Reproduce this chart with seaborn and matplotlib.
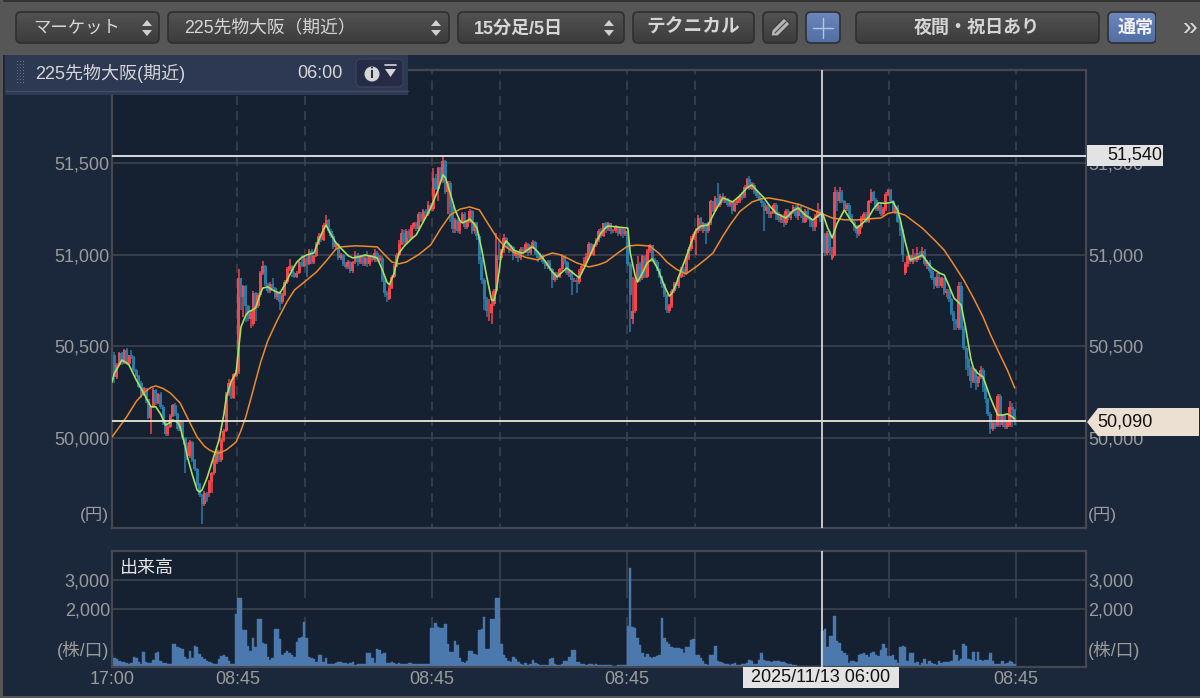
import numpy as np
import matplotlib
matplotlib.use("Agg")
import matplotlib.pyplot as plt
import seaborn as sns
from matplotlib.colors import LinearSegmentedColormap
from matplotlib.patches import FancyBboxPatch, Polygon, Rectangle, Circle

# 15 minute candles, 372 bars
opens = [
    50330,50450,50330,50400,50465,50410,50480,50405,50450,50440,50370,50340,50300,50240,50270,50210,50110,50170,50260,50190,
    50240,50170,50080,50020,50060,50120,50180,50130,50050,50090,50000,49960,49900,49980,49880,49830,49750,49690,49640,49700,
    49700,49760,49810,49870,49930,49880,49990,50040,50240,50300,50220,50340,50360,50870,50770,50830,50720,50650,50620,50790,
    50720,50780,50900,50940,50840,50800,50840,50820,50770,50790,50740,50780,50850,50920,50940,50900,50880,50900,50960,50940,
    50980,50950,51020,50960,50990,51060,51100,51080,51160,51190,51130,51100,51040,51060,50980,51000,50950,50930,50960,50910,
    50960,51000,50960,50990,50950,50980,50950,50990,50970,51010,50970,50980,50860,50790,50760,50820,50880,50940,51000,51060,
    51120,51070,51130,51090,51150,51170,51140,51220,51190,51240,51220,51270,51250,51420,51360,51470,51400,51510,51340,51390,
    51260,51140,51190,51130,51180,51220,51150,51180,51240,51130,51170,51100,50970,50860,50760,50690,50680,50730,50800,51000,
    50980,51020,51090,51060,51030,51040,50990,51010,50980,51030,51020,51060,51010,51040,51070,51010,50980,51000,50960,50940,
    50960,50920,50860,50900,50880,50920,50990,50960,50900,50910,50860,50860,50850,50910,50940,50970,50990,51060,51000,51050,
    51080,51130,51100,51170,51140,51170,51130,51130,51150,51110,51140,51110,51130,50950,50650,50690,50860,50950,50870,50990,
    50880,51020,51050,50970,50960,50920,50880,50840,50780,50690,50720,50800,50840,50830,50880,50920,50900,50980,51030,51090,
    51110,51130,51200,51140,51170,51130,51170,51290,51240,51310,51270,51320,51290,51300,51270,51290,51240,51280,51290,51320,
    51320,51370,51410,51360,51380,51340,51320,51300,51280,51240,51260,51220,51230,51270,51220,51190,51210,51170,51240,51200,
    51230,51260,51210,51260,51230,51180,51240,51200,51180,51150,51210,51240,51220,51110,51010,51120,50980,51000,51340,51290,
    51340,51290,51250,51270,51210,51180,51150,51110,51150,51200,51220,51180,51290,51340,51300,51250,51270,51220,51250,51330,
    51350,51290,51240,51260,51180,51130,50900,50950,50990,50960,51000,50970,51010,50990,51020,50950,50960,50910,50870,50830,
    50880,50830,50870,50790,50800,50760,50680,50640,50600,50830,50600,50490,50430,50380,50310,50370,50300,50330,50370,50280,
    50210,50130,50050,50080,50070,50230,50070,50120,50060,50070,50170,50150,
]
closes = [
    50450,50330,50400,50465,50410,50480,50405,50450,50440,50370,50340,50280,50240,50270,50200,50110,50170,50260,50190,50240,
    50170,50080,50020,50060,50120,50180,50130,50050,50090,50000,49960,49900,49980,49880,49830,49750,49690,49640,49700,49660,
    49760,49810,49880,49930,49880,49990,50040,50240,50300,50220,50350,50360,50870,50770,50830,50720,50650,50680,50790,50720,
    50780,50900,50940,50840,50800,50840,50820,50770,50790,50740,50780,50850,50920,50940,50900,50880,50900,50960,50940,50980,
    50950,51020,50960,50990,51060,51100,51080,51160,51190,51130,51100,51040,51060,50980,51000,50950,50930,50960,50910,50960,
    51000,50960,50990,50950,50980,50950,50990,50970,51010,50970,50980,50860,50790,50780,50820,50880,50940,51000,51060,51120,
    51070,51130,51090,51150,51170,51140,51220,51190,51240,51220,51270,51250,51420,51360,51470,51400,51510,51340,51390,51260,
    51140,51190,51130,51180,51220,51150,51180,51240,51130,51170,51100,50970,50860,50760,50690,50690,50730,50800,51000,50980,
    51020,51090,51060,51030,51040,50990,51010,50980,51030,51020,51060,51010,51040,51070,51010,50980,51000,50960,50940,50960,
    50920,50860,50900,50880,50920,50990,50960,50900,50910,50860,50860,50850,50910,50940,50970,50990,51060,51000,51050,51080,
    51130,51100,51170,51140,51170,51130,51130,51150,51110,51140,51110,51130,50950,50780,50690,50860,50950,50870,50990,50880,
    51020,51050,50970,50960,50920,50880,50840,50780,50700,50720,50800,50840,50830,50880,50920,50900,50980,51030,51090,51110,
    51130,51200,51140,51170,51130,51170,51290,51240,51310,51270,51320,51290,51300,51270,51290,51240,51280,51290,51320,51310,
    51370,51410,51360,51380,51340,51320,51300,51280,51240,51260,51220,51230,51270,51220,51190,51210,51170,51240,51200,51230,
    51260,51210,51260,51230,51180,51240,51200,51180,51150,51210,51240,51220,51110,51010,51120,51020,51000,51340,51290,51340,
    51290,51250,51270,51210,51180,51150,51120,51150,51200,51220,51180,51290,51340,51300,51250,51270,51220,51250,51330,51350,
    51290,51240,51260,51180,51130,51000,50950,50990,50960,51000,50970,51010,50990,51020,50950,50960,50910,50870,50840,50880,
    50830,50870,50790,50800,50760,50680,50640,50620,50830,50600,50490,50430,50380,50310,50370,50300,50330,50370,50280,50210,
    50130,50050,50080,50060,50230,50070,50120,50060,50090,50170,50150,50090,
]
highs = [
    50480,50470,50410,50470,50470,50485,50490,50455,50480,50445,50375,50345,50310,50280,50275,50215,50175,50270,50265,50245,
    50250,50180,50090,50070,50130,50185,50190,50135,50100,50095,50005,49970,49990,49985,49885,49835,49755,49695,49710,49705,
    49770,49815,49890,49940,49935,50000,50050,50250,50320,50305,50355,50370,50920,50875,50835,50835,50725,50690,50800,50795,
    50790,50910,50965,50945,50845,50850,50870,50825,50800,50800,50790,50860,50930,50975,50945,50905,50910,50970,51000,50990,
    50990,51030,51030,51000,51070,51120,51110,51170,51215,51195,51140,51110,51070,51065,51010,51005,50960,50970,50965,50965,
    51020,51010,51000,51000,51000,51020,51000,51000,51030,51020,51000,50990,50870,50800,50830,50890,50950,51010,51080,51140,
    51135,51140,51140,51160,51180,51180,51230,51230,51250,51250,51290,51280,51470,51440,51480,51480,51545,51515,51400,51400,
    51270,51200,51200,51190,51235,51230,51190,51250,51245,51180,51180,51110,50985,50870,50770,50760,50760,50810,51120,51080,
    51030,51110,51095,51065,51050,51045,51020,51020,51040,51040,51070,51065,51050,51080,51075,51020,51010,51005,50970,50970,
    50970,50925,50905,50905,50925,51005,51000,50965,50920,50915,50870,50870,50920,50950,50985,51010,51070,51065,51060,51090,
    51140,51145,51175,51180,51180,51175,51140,51160,51155,51145,51145,51140,51135,50960,50880,50870,50990,50960,51000,51000,
    51030,51060,51055,50980,50970,50925,50885,50845,50785,50730,50810,50850,50850,50890,50930,50930,50990,51040,51100,51125,
    51145,51215,51205,51180,51175,51180,51300,51295,51320,51390,51330,51335,51320,51310,51295,51295,51290,51310,51330,51340,
    51380,51420,51430,51395,51390,51350,51330,51310,51290,51270,51270,51240,51280,51280,51230,51220,51220,51250,51250,51240,
    51270,51270,51280,51270,51240,51250,51250,51210,51190,51220,51280,51250,51230,51120,51130,51130,51040,51370,51350,51370,
    51350,51300,51280,51280,51220,51190,51160,51160,51210,51230,51230,51300,51360,51345,51310,51280,51280,51260,51340,51360,
    51360,51300,51270,51270,51190,51140,50960,51000,51000,51030,51010,51040,51020,51040,51030,50970,50970,50920,50880,50900,
    50900,50880,50875,50810,50810,50765,50690,50650,50850,50850,50610,50500,50440,50390,50380,50375,50340,50390,50380,50290,
    50220,50140,50090,50100,50240,50240,50130,50130,50100,50200,50190,50160,
]
lows = [
    50290,50300,50320,50395,50400,50405,50400,50400,50430,50360,50335,50270,50220,50230,50190,50105,50020,50165,50180,50185,
    50160,50070,50010,50010,50055,50115,50120,50040,50040,49990,49810,49880,49890,49870,49820,49740,49680,49530,49630,49650,
    49680,49700,49800,49860,49870,49870,49980,50030,50230,50210,50210,50330,50350,50700,50660,50630,50640,50600,50610,50640,
    50710,50770,50890,50830,50790,50790,50810,50760,50750,50700,50730,50775,50840,50910,50880,50870,50870,50895,50930,50930,
    50880,50945,50950,50950,50985,51050,51070,51075,51150,51120,51090,51030,51030,50970,50970,50940,50920,50920,50900,50900,
    50950,50940,50950,50940,50940,50930,50940,50960,50960,50960,50960,50850,50770,50740,50750,50810,50870,50930,50990,51050,
    51050,51060,51080,51080,51140,51130,51130,51180,51180,51210,51210,51240,51240,51350,51290,51390,51390,51330,51220,51180,
    51120,51120,51120,51110,51170,51140,51140,51170,51110,51110,51080,50950,50840,50700,50660,50640,50620,50720,50790,50970,
    50970,51010,51040,51010,51020,50970,50980,50960,50970,51005,51010,50995,51000,51030,51000,50960,50970,50950,50920,50920,
    50910,50820,50850,50860,50870,50910,50950,50890,50880,50780,50850,50790,50840,50900,50930,50960,50980,50990,50990,51040,
    51070,51090,51095,51120,51130,51110,51120,51120,51100,51100,51090,51100,50940,50580,50620,50680,50850,50850,50860,50870,
    50870,51010,50960,50950,50910,50870,50820,50770,50680,50680,50710,50790,50810,50820,50870,50880,50890,50970,51020,51080,
    51000,51120,51130,51120,51060,51120,51160,51230,51230,51260,51260,51280,51280,51260,51260,51220,51230,51270,51280,51300,
    51310,51360,51350,51350,51330,51310,51290,51260,51130,51220,51200,51200,51220,51190,51180,51170,51150,51160,51190,51190,
    51220,51200,51190,51200,51170,51170,51190,51150,51130,51130,51200,51180,51060,50990,51000,51000,50970,50990,51240,51280,
    51280,51240,51240,51200,51170,51130,51090,51100,51140,51190,51170,51170,51280,51290,51240,51240,51210,51210,51240,51320,
    51280,51230,51220,51170,51100,50960,50890,50930,50950,50950,50960,50960,50970,50980,50940,50920,50900,50860,50810,50820,
    50820,50820,50780,50770,50740,50670,50590,50590,50590,50590,50480,50370,50340,50270,50300,50260,50280,50320,50250,50190,
    50120,50020,50040,50050,50060,50060,50060,50050,50050,50060,50060,50070,
]
volumes = [
    460,300,260,200,170,170,150,120,130,340,300,170,120,520,170,130,130,250,480,520,
    200,140,130,120,110,800,780,680,660,620,340,280,540,300,720,680,460,340,260,200,
    180,130,120,100,280,380,420,330,200,100,90,1820,2390,2390,1290,1290,720,560,1010,700,
    1650,1650,820,800,350,250,300,1320,1320,950,400,500,550,500,400,350,860,1000,1050,1550,
    1000,360,300,280,160,420,420,160,300,90,110,120,130,170,170,130,150,120,140,160,
    80,100,100,90,110,480,480,300,140,610,600,450,490,150,130,170,130,120,140,120,
    120,110,130,130,120,120,120,110,90,90,90,1360,1360,1520,1380,1340,1340,1470,800,530,
    520,890,760,300,170,130,200,540,540,460,400,1270,1300,1725,630,630,1670,1650,2390,2390,
    800,420,300,220,160,350,280,180,110,80,150,70,100,250,150,90,70,80,80,80,
    290,300,120,80,80,120,200,200,340,600,600,160,170,110,90,70,120,90,80,100,
    70,60,60,60,70,60,50,50,60,60,60,60,1400,3430,1380,1340,1000,760,500,350,
    460,360,300,330,390,420,1690,1000,870,800,700,650,660,670,610,480,690,700,940,950,
    400,400,300,220,120,60,400,430,730,200,170,150,120,90,70,120,140,60,70,90,
    110,130,230,200,120,100,240,480,230,210,200,180,200,210,200,180,160,130,100,100,
    70,60,50,40,30,30,20,20,20,20,20,20,1240,1300,700,1060,1060,1760,880,840,
    550,500,400,130,200,200,170,400,440,470,400,350,500,520,430,380,590,790,640,370,
    370,430,230,130,680,720,690,200,500,480,130,160,80,130,260,110,190,130,100,70,
    190,130,170,170,170,190,570,400,220,260,780,720,260,240,520,220,510,250,220,230,
    250,470,200,110,90,100,200,110,130,200,170,90,
]

# moving averages read at these bar numbers
fast_bar = [0,1,2,4,6,7,10,13,16,18,20,22,24,25,27,28,30,31,33,35,36,37,39,41,44,46,47,49,51,52,53,55,56,58,59,61,62,64,67,69,71,72,74,76,78,80,
            83,85,87,88,90,92,94,97,99,102,104,107,109,111,113,114,116,117,118,120,123,125,128,131,134,136,137,138,140,141,143,144,146,147,149,150,
            152,154,156,157,158,159,160,161,162,164,165,168,169,172,173,175,177,179,181,183,185,187,189,192,194,196,199,201,203,204,208,212,213,215,216,
            218,220,222,224,225,227,229,230,232,234,236,238,240,242,245,248,251,253,255,258,261,263,265,268,270,273,277,280,282,285,288,290,292,294,296,
            298,301,303,306,308,311,313,315,318,321,323,324,326,328,331,333,335,337,340,342,344,346,349,351,353,354,356,358,361,364,366,368,370,371]
fast_ma = [50305,50355,50375,50425,50410,50398,50316,50245,50170,50170,50130,50070,50085,50098,50085,50060,49960,49896,49800,49716,49705,49716,49780,49864,49989,50130,50224,50310,50355,50480,50605,50670,50687,50700,50709,50790,50818,50824,50800,50790,50835,50862,50915,50960,50985,50998,
           51009,51080,51140,51160,51110,51065,51036,50995,50982,50990,50998,50990,50982,50920,50850,50835,50900,50960,51009,51045,51085,51107,51180,51254,51353,51435,51420,51380,51290,51244,51185,51173,51185,51194,51165,51145,
           51025,50880,50753,50750,50807,50900,51009,51050,51075,51045,51025,51010,51009,51038,51042,51015,50982,50945,50905,50878,50905,50927,50905,50873,50925,50982,51070,51118,51150,51156,51150,51145,51009,50885,50851,
           50900,50955,50976,50930,50900,50830,50774,50785,50845,50920,50987,51065,51134,51155,51162,51240,51309,51300,51287,51320,51365,51380,51350,51309,51271,51225,51200,51240,51254,51215,51189,51210,51227,51150,51091,
           51170,51244,51200,51145,51165,51205,51250,51282,51280,51287,51240,51189,51070,50971,50985,50998,50960,50927,50900,50889,50830,50764,50725,50589,50430,50382,50350,50333,50220,50125,50125,50131,50115,50104]
slow_bar = [0,3,6,10,13,16,18,21,24,28,31,35,38,40,42,44,47,51,53,55,58,61,64,68,72,75,79,84,88,92,94,100,105,109,112,115,118,121,126,131,135,139,143,147,151,154,158,161,165,170,175,178,181,184,187,191,196,200,203,208,212,216,221,225,228,232,236,238,240,244,247,251,254,258,263,267,270,276,283,290,296,301,306,311,316,319,322,326,333,338,342,346,350,354,358,361,364,368,371]
slow_ma = [50005,50060,50115,50200,50245,50276,50284,50270,50245,50191,50110,50005,49955,49935,49922,49918,49935,49978,50040,50115,50260,50409,50530,50644,50745,50807,50850,50905,50965,51030,51042,51048,51045,51042,51000,50960,50950,50960,51000,51053,51140,51216,51248,51260,51244,51180,51096,51050,51014,50985,50971,50995,51009,51000,50982,50955,50933,50945,50960,51010,51047,51052,51047,51005,50960,50920,50895,50915,50933,50975,51009,51100,51162,51235,51287,51305,51309,51295,51271,51233,51200,51190,51189,51195,51200,51225,51233,51215,51145,51080,51025,50945,50862,50765,50660,50565,50480,50370,50273]

price_ticks = [50000, 50500, 51000, 51500]
price_labels = ["50,000", "50,500", "51,000", "51,500"]
volume_ticks = [2000, 3000]
volume_labels = ["2,000", "3,000"]
time_ticks = [0, 51.5, 131.5, 211.5, 371.5]
time_labels = ["17:00", "08:45", "08:45", "08:45", "08:45"]
session_marks = [51.5, 79.5, 131.5, 159.5, 211.5, 239.5, 319.5, 371.5]
cursor_bar = 291.6
high_price = 51540
last_price = 50090

sns.set_theme(style="dark")
plt.rcParams["font.family"] = ["Liberation Sans", "Noto Sans CJK JP", "DejaVu Sans"]
plt.rcParams["patch.edgecolor"] = "none"
plt.rcParams["patch.linewidth"] = 0

PANEL = "#1b283b"
PLOT = "#152030"
FRAME = "#434852"
GRID = "#3d4250"
LABEL = "#9b9b9b"
UP = "#f2474c"
DOWN = "#2c7aa6"

bars = np.arange(len(closes))
opens = np.array(opens)
closes = np.array(closes)

fig = plt.figure(figsize=(12, 6.98), dpi=100, facecolor=PANEL)
ax = fig.add_axes([112 / 1200, 1 - 528 / 698, 974 / 1200, 458 / 698], zorder=1)
ax_vol = fig.add_axes([112 / 1200, 1 - 667 / 698, 974 / 1200, 116 / 698], zorder=1)

# price pane
for a in (ax, ax_vol):
    a.set_facecolor(PLOT)
    for s in a.spines.values():
        s.set_color(FRAME)
        s.set_linewidth(1.6)
    a.grid(False)

ax.hlines(price_ticks, -2, 402, color=GRID, lw=1.2, zorder=1)
ax.vlines(session_marks, 49400, 52100, color=GRID, lw=1.1, linestyles=(0, (6, 4)), zorder=1)

colors = [UP if c >= o else DOWN for o, c in zip(opens, closes)]
ax.vlines(bars, lows, highs, colors=colors, lw=1.1, zorder=2)
ax.bar(bars, np.abs(closes - opens), bottom=np.minimum(opens, closes), width=1.25, color=colors, linewidth=0, zorder=2)

sns.lineplot(x=slow_bar, y=slow_ma, ax=ax, color="#ee8a2c", lw=1.1, estimator=None, sort=False, zorder=3)
sns.lineplot(x=fast_bar, y=fast_ma, ax=ax, color="#a4e35f", lw=1.2, estimator=None, sort=False, zorder=4)

ax.axhline(high_price, color="#e8e8e8", lw=1.3, zorder=5)
ax.axhline(last_price, color="#efe6d8", lw=1.3, zorder=5)
ax.axvline(cursor_bar, color="#d4d4d4", lw=1.3, zorder=6)

ax.set_xlim(0, 400.3)
ax.set_ylim(49509, 52007)
ax.set_xticks([])
ax.set_xlabel("")
ax.set_yticks(price_ticks, price_labels)
ax.tick_params(axis="y", length=0, pad=1.5, labelsize=13, labelcolor=LABEL, labelleft=True, labelright=True)

# volume pane
ax_vol.hlines(volume_ticks, -2, 402, color=GRID, lw=1.2, zorder=1)
ax_vol.vlines(session_marks, 2370, 4000, color=GRID, lw=1.1, zorder=1)
ax_vol.vlines(session_marks, 0, 1713, color=GRID, lw=1.1, zorder=1)
sns.barplot(x=bars, y=volumes, ax=ax_vol, native_scale=True, width=1, color="#4b78ad", saturation=1,
            errorbar=None, linewidth=0.3, edgecolor="#4b78ad", zorder=2)
ax_vol.axvline(cursor_bar, color="#d4d4d4", lw=1.3, zorder=6)
ax_vol.set_xlim(0, 400.3)
ax_vol.set_ylim(0, 4000)
ax_vol.set_ylabel("")
ax_vol.set_xticks(time_ticks, time_labels)
ax_vol.set_yticks(volume_ticks, volume_labels)
ax_vol.tick_params(axis="y", length=0, pad=1.5, labelsize=13, labelcolor=LABEL, labelleft=True, labelright=True)
ax_vol.tick_params(axis="x", length=0, pad=3, labelsize=13, labelcolor=LABEL)

# toolbar, header and tags drawn in pixel coordinates on top
ui = fig.add_axes([0, 0, 1, 1], zorder=5)
ui.set_axis_off()
ui.patch.set_alpha(0)
ui.set_xlim(0, 1200)
ui.set_ylim(698, 0)

button_cmap = LinearSegmentedColormap.from_list("btn", ["#525252", "#3c3c3c"])
blue_cmap = LinearSegmentedColormap.from_list("blue", ["#6a86bb", "#526fa5"])


def button(x0, x1, cmap=button_cmap, y0=12, y1=43):
    box = FancyBboxPatch((x0, y0), x1 - x0, y1 - y0, boxstyle="round,pad=0,rounding_size=5",
                         fc="none", ec="#2f2f2f", lw=1.2, zorder=3)
    ui.add_patch(box)
    im = ui.imshow(np.linspace(0, 1, 32).reshape(-1, 1), extent=(x0, x1, y1, y0), cmap=cmap,
                   aspect="auto", zorder=2)
    im.set_clip_path(box)


def updown(x):
    ui.add_patch(Polygon([(x - 5, 26), (x + 5, 26), (x, 20)], fc="#d0d0d0", ec="none", zorder=4))
    ui.add_patch(Polygon([(x - 5, 30), (x + 5, 30), (x, 36)], fc="#d0d0d0", ec="none", zorder=4))


def label(x, y, s, size=12, color="#d6d6d6", ha="left", weight="normal"):
    ui.text(x, y, s, fontsize=size, color=color, ha=ha, va="center", weight=weight, zorder=5)


ui.add_patch(Rectangle((0, 0), 1200, 55, fc="#565656", ec="none", zorder=1))
ui.add_patch(Rectangle((0, 0), 1200, 1.5, fc="#333333", ec="none", zorder=1))
ui.add_patch(Rectangle((0, 0), 3, 698, fc="#565656", ec="none", zorder=1))
ui.add_patch(Rectangle((0, 696), 1200, 2, fc="#565656", ec="none", zorder=1))

button(16, 159)
button(168, 449)
button(458, 624)
button(633, 754)
button(763, 797)
button(806, 840, blue_cmap)
button(856, 1099)
button(1108, 1156, blue_cmap)
ui.add_patch(Rectangle((1156, 8), 8, 40, fc="#565656", ec="none", zorder=4))

label(33, 28, "マーケット", 12.5)
updown(147)
label(184, 28, "225先物大阪（期近）", 12.8)
updown(436)
label(474, 29, "15分足/5日", 13, weight="bold")
updown(609)
label(693.5, 28, "テクニカル", 13.5, ha="center", weight="bold")
ui.add_patch(Polygon([(771, 36), (772, 30), (784, 18), (790, 24), (778, 36)], fc="#b4b4b4", ec="#3a3a3a", lw=0.8, zorder=4))
ui.plot([775, 786], [33, 22], color="#3a3a3a", lw=0.7, zorder=5)
ui.plot([813, 833], [28, 28], color="#b9c4da", lw=1, zorder=4)
ui.plot([823, 823], [18, 38], color="#b9c4da", lw=1, zorder=4)
label(977, 28, "夜間・祝日あり", 13, ha="center", weight="bold")
label(1118, 28, "通常", 13, color="#f2f2f2", weight="bold")
label(1183, 28, "»", 19, color="#dddddd")

# header tab over the price pane
ui.add_patch(Rectangle((5, 55), 403, 40, fc="#2d3853", ec="none", zorder=1))
ui.plot([5, 408], [91, 91], color="#454c60", lw=1, zorder=2)
for gy in range(61, 85, 3):
    for gx in (17, 20, 23):
        ui.add_patch(Rectangle((gx, gy), 1.4, 1.4, fc="#6a7184", ec="none", zorder=2))
label(35, 73, "225先物大阪(期近)", 13)
label(297, 73, "06:00", 13)
ui.add_patch(FancyBboxPatch((356, 59), 47, 28, boxstyle="round,pad=0,rounding_size=5", fc="#262c47", ec="#3c4156", lw=1, zorder=2))
ui.add_patch(Circle((372, 74), 7.5, fc="#d6d6d6", ec="none", zorder=3))
ui.text(372, 74.5, "i", fontsize=10.5, color="#262c47", ha="center", va="center", weight="bold", zorder=4)
ui.plot([385, 396], [65, 65], color="#d6d6d6", lw=1.2, zorder=3)
ui.add_patch(Polygon([(385, 69), (396, 69), (390.5, 77)], fc="#d6d6d6", ec="none", zorder=3))

# price tags
ui.add_patch(Rectangle((1087, 145), 76, 21, fc="#e3e3e3", ec="none", zorder=3))
label(1162, 155.5, "51,540", 13, color="#111111", ha="right")
ui.add_patch(Polygon([(1087, 422), (1098, 408), (1199, 408), (1199, 436), (1098, 436)], fc="#ebe0d2", ec="none", zorder=3))
label(1097, 422, "50,090", 13, color="#111111")

# date tag under the cursor
ui.add_patch(Rectangle((743, 667), 156, 21, fc="#e3e3e3", ec="none", zorder=3))
label(821, 677.5, "2025/11/13 06:00", 13, color="#111111", ha="center")

# unit captions
label(109, 515, "(円)", 12.5, color=LABEL, ha="right")
label(1088, 515, "(円)", 12.5, color=LABEL)
label(120, 569, "出来高", 13, color="#e6e6e6")
label(109, 651, "(株/口)", 12.8, color=LABEL, ha="right")
label(1088, 651, "(株/口)", 12.8, color=LABEL)

fig.savefig("out.png", dpi=100, facecolor=PANEL)
